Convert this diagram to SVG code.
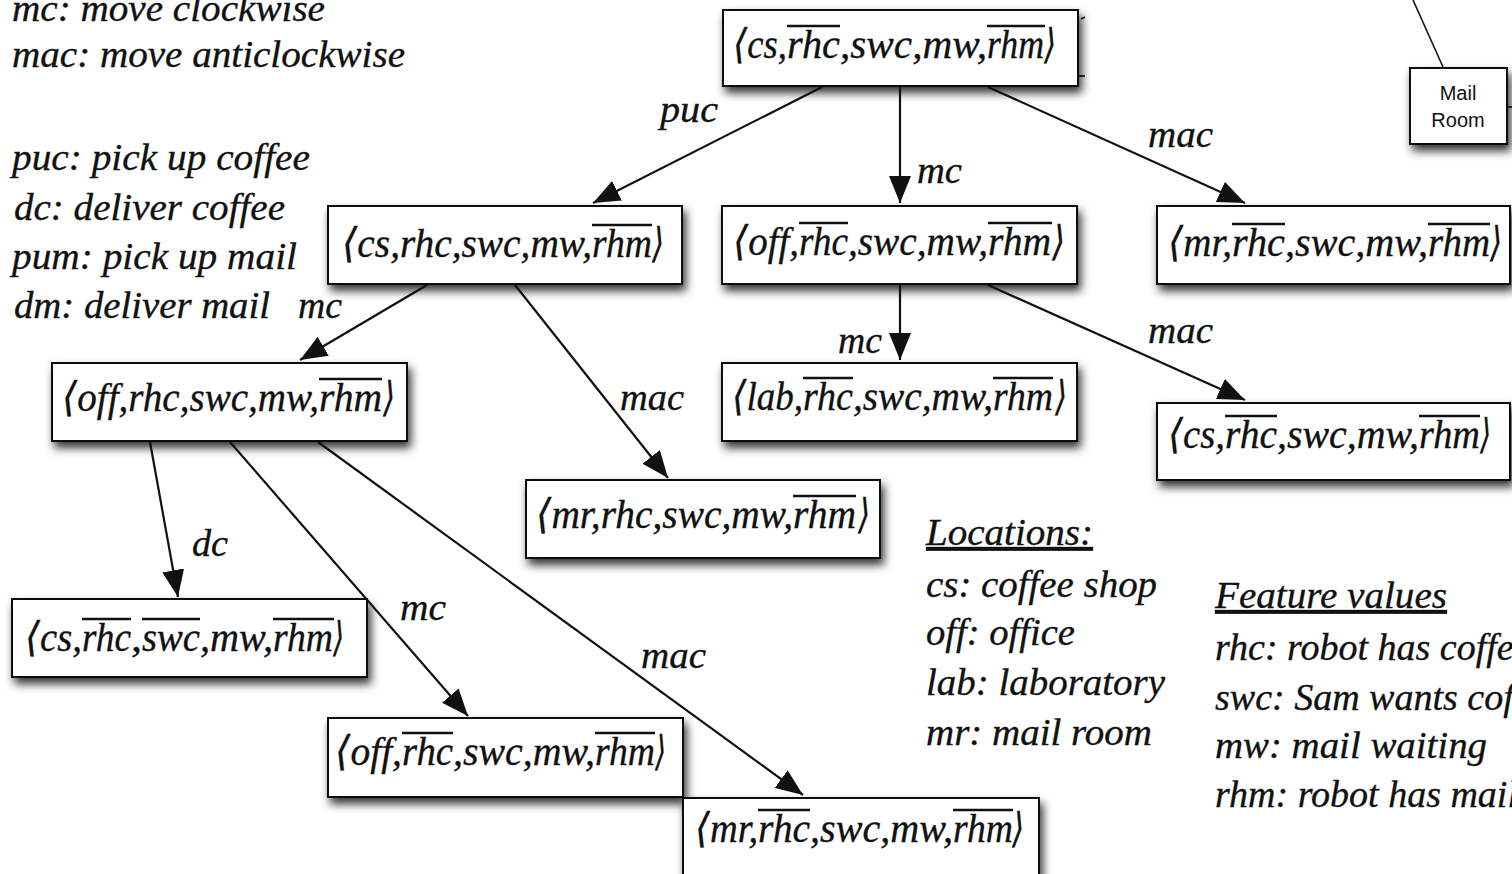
<svg xmlns="http://www.w3.org/2000/svg" width="1512" height="874" viewBox="0 0 1512 874">
<style>
.it{font-family:'Liberation Serif','DejaVu Serif',serif;font-style:italic;fill:#111;stroke:#111;stroke-width:0.35;}
.leg{font-size:38px;}
.lbl{font-size:38px;}
.nt{font-size:41px;}
.ul{text-decoration:underline;}
.box{fill:#fff;stroke:#111;stroke-width:2;}
.ov{stroke:#111;stroke-width:2.6;}
.edge{stroke:#111;stroke-width:2.2;fill:none;marker-end:url(#ah);}
.thin{stroke:#111;stroke-width:1.6;fill:none;}
.sans{font-family:'Liberation Sans',Arial,sans-serif;font-size:20px;fill:#111;}
</style>
<defs>
<filter id="sh" x="-10%" y="-20%" width="125%" height="160%">
<feDropShadow dx="3" dy="6" stdDeviation="5" flood-color="#000" flood-opacity="0.8"/>
</filter>
<marker id="ah" markerUnits="userSpaceOnUse" markerWidth="28" markerHeight="22" refX="27" refY="11" orient="auto">
<path d="M0,0 L27,11 L0,22 Z" fill="#111"/>
</marker>
</defs>
<rect width="1512" height="874" fill="#fff"/>

<g id="background-fragments">
<line class="thin" x1="1413" y1="0" x2="1443" y2="67"/>
<line class="thin" x1="1507" y1="107" x2="1512" y2="107"/>
<line class="thin" x1="1078" y1="76" x2="1085" y2="76"/>
<line class="thin" x1="1081" y1="19" x2="1085" y2="17"/>
</g>

<g id="mail-room">
<rect class="box" x="1410" y="68" width="97" height="76" filter="url(#sh)"/>
<text class="sans" x="1458" y="100" text-anchor="middle">Mail</text>
<text class="sans" x="1458" y="127" text-anchor="middle">Room</text>
</g>

<g id="legend-actions">
<text class="it leg" x="12" y="21" textLength="313" lengthAdjust="spacingAndGlyphs">mc: move clockwise</text>
<text class="it leg" x="12" y="67" textLength="393" lengthAdjust="spacingAndGlyphs">mac: move anticlockwise</text>
<text class="it leg" x="12" y="170" textLength="298" lengthAdjust="spacingAndGlyphs">puc: pick up coffee</text>
<text class="it leg" x="14" y="220" textLength="271" lengthAdjust="spacingAndGlyphs">dc: deliver coffee</text>
<text class="it leg" x="12" y="269" textLength="285" lengthAdjust="spacingAndGlyphs">pum: pick up mail</text>
<text class="it leg" x="14" y="318" textLength="256" lengthAdjust="spacingAndGlyphs">dm: deliver mail</text>
</g>

<g id="legend-locations">
<text class="it leg ul" x="926" y="545" textLength="167" lengthAdjust="spacingAndGlyphs">Locations:</text>
<text class="it leg" x="926" y="597" textLength="231" lengthAdjust="spacingAndGlyphs">cs: coffee shop</text>
<text class="it leg" x="926" y="645" textLength="149" lengthAdjust="spacingAndGlyphs">off: office</text>
<text class="it leg" x="926" y="695" textLength="239" lengthAdjust="spacingAndGlyphs">lab: laboratory</text>
<text class="it leg" x="926" y="745" textLength="226" lengthAdjust="spacingAndGlyphs">mr: mail room</text>
</g>

<g id="legend-features">
<text class="it leg ul" x="1215" y="608" textLength="232" lengthAdjust="spacingAndGlyphs">Feature values</text>
<text class="it leg" x="1215" y="660">rhc: robot has coffee</text>
<text class="it leg" x="1215" y="710">swc: Sam wants coffee</text>
<text class="it leg" x="1215" y="758" textLength="272" lengthAdjust="spacingAndGlyphs">mw: mail waiting</text>
<text class="it leg" x="1215" y="807">rhm: robot has mail</text>
</g>

<g id="root">
<rect class="box" x="723" y="10" width="355" height="76" filter="url(#sh)"/>
<text class="it nt" y="58"><tspan x="733" textLength="54" lengthAdjust="spacingAndGlyphs">⟨cs,</tspan><tspan x="787" textLength="53" lengthAdjust="spacingAndGlyphs">rhc</tspan><tspan x="840" textLength="147" lengthAdjust="spacingAndGlyphs">,swc,mw,</tspan><tspan x="987" textLength="57" lengthAdjust="spacingAndGlyphs">rhm</tspan><tspan x="1044" textLength="12" lengthAdjust="spacingAndGlyphs">⟩</tspan></text>
<line class="ov" x1="787" y1="26" x2="840" y2="26"/>
<line class="ov" x1="987" y1="26" x2="1045" y2="26"/>
</g>
<g id="n1">
<rect class="box" x="328" y="206" width="354" height="78" filter="url(#sh)"/>
<text class="it nt" y="257"><tspan x="342" textLength="250" lengthAdjust="spacingAndGlyphs">⟨cs,rhc,swc,mw,</tspan><tspan x="592" textLength="60" lengthAdjust="spacingAndGlyphs">rhm</tspan><tspan x="652" textLength="12" lengthAdjust="spacingAndGlyphs">⟩</tspan></text>
<line class="ov" x1="592" y1="225" x2="652" y2="225"/>
</g>
<g id="n2">
<rect class="box" x="722" y="206" width="355" height="78" filter="url(#sh)"/>
<text class="it nt" y="255"><tspan x="733" textLength="66" lengthAdjust="spacingAndGlyphs">⟨off,</tspan><tspan x="799" textLength="49" lengthAdjust="spacingAndGlyphs">rhc</tspan><tspan x="848" textLength="140" lengthAdjust="spacingAndGlyphs">,swc,mw,</tspan><tspan x="988" textLength="63" lengthAdjust="spacingAndGlyphs">rhm</tspan><tspan x="1052" textLength="13" lengthAdjust="spacingAndGlyphs">⟩</tspan></text>
<line class="ov" x1="799" y1="223" x2="848" y2="223"/>
<line class="ov" x1="988" y1="223" x2="1052" y2="223"/>
</g>
<g id="n3">
<rect class="box" x="1157" y="206" width="353" height="78" filter="url(#sh)"/>
<text class="it nt" y="256"><tspan x="1168" textLength="64" lengthAdjust="spacingAndGlyphs">⟨mr,</tspan><tspan x="1232" textLength="53" lengthAdjust="spacingAndGlyphs">rhc</tspan><tspan x="1285" textLength="143" lengthAdjust="spacingAndGlyphs">,swc,mw,</tspan><tspan x="1428" textLength="62" lengthAdjust="spacingAndGlyphs">rhm</tspan><tspan x="1490" textLength="12" lengthAdjust="spacingAndGlyphs">⟩</tspan></text>
<line class="ov" x1="1232" y1="224" x2="1285" y2="224"/>
<line class="ov" x1="1428" y1="224" x2="1490" y2="224"/>
</g>
<g id="n4">
<rect class="box" x="52" y="363" width="355" height="78" filter="url(#sh)"/>
<text class="it nt" y="411"><tspan x="62" textLength="257" lengthAdjust="spacingAndGlyphs">⟨off,rhc,swc,mw,</tspan><tspan x="319" textLength="63" lengthAdjust="spacingAndGlyphs">rhm</tspan><tspan x="383" textLength="12" lengthAdjust="spacingAndGlyphs">⟩</tspan></text>
<line class="ov" x1="319" y1="379" x2="382" y2="379"/>
</g>
<g id="n5">
<rect class="box" x="722" y="363" width="355" height="78" filter="url(#sh)"/>
<text class="it nt" y="410"><tspan x="732" textLength="71" lengthAdjust="spacingAndGlyphs">⟨lab,</tspan><tspan x="803" textLength="50" lengthAdjust="spacingAndGlyphs">rhc</tspan><tspan x="853" textLength="140" lengthAdjust="spacingAndGlyphs">,swc,mw,</tspan><tspan x="993" textLength="60" lengthAdjust="spacingAndGlyphs">rhm</tspan><tspan x="1055" textLength="12" lengthAdjust="spacingAndGlyphs">⟩</tspan></text>
<line class="ov" x1="803" y1="378" x2="853" y2="378"/>
<line class="ov" x1="993" y1="378" x2="1053" y2="378"/>
</g>
<g id="n6">
<rect class="box" x="1157" y="403" width="353" height="77" filter="url(#sh)"/>
<text class="it nt" y="448"><tspan x="1168" textLength="57" lengthAdjust="spacingAndGlyphs">⟨cs,</tspan><tspan x="1225" textLength="52" lengthAdjust="spacingAndGlyphs">rhc</tspan><tspan x="1277" textLength="142" lengthAdjust="spacingAndGlyphs">,swc,mw,</tspan><tspan x="1419" textLength="61" lengthAdjust="spacingAndGlyphs">rhm</tspan><tspan x="1480" textLength="11" lengthAdjust="spacingAndGlyphs">⟩</tspan></text>
<line class="ov" x1="1225" y1="416" x2="1277" y2="416"/>
<line class="ov" x1="1419" y1="416" x2="1480" y2="416"/>
</g>
<g id="n7">
<rect class="box" x="526" y="480" width="354" height="78" filter="url(#sh)"/>
<text class="it nt" y="528"><tspan x="536" textLength="257" lengthAdjust="spacingAndGlyphs">⟨mr,rhc,swc,mw,</tspan><tspan x="793" textLength="63" lengthAdjust="spacingAndGlyphs">rhm</tspan><tspan x="858" textLength="12" lengthAdjust="spacingAndGlyphs">⟩</tspan></text>
<line class="ov" x1="793" y1="496" x2="856" y2="496"/>
</g>
<g id="n8">
<rect class="box" x="12" y="599" width="355" height="78" filter="url(#sh)"/>
<text class="it nt" y="651"><tspan x="25" textLength="57" lengthAdjust="spacingAndGlyphs">⟨cs,</tspan><tspan x="82" textLength="49" lengthAdjust="spacingAndGlyphs">rhc</tspan><tspan x="131" textLength="11" lengthAdjust="spacingAndGlyphs">,</tspan><tspan x="142" textLength="58" lengthAdjust="spacingAndGlyphs">swc</tspan><tspan x="200" textLength="73" lengthAdjust="spacingAndGlyphs">,mw,</tspan><tspan x="273" textLength="60" lengthAdjust="spacingAndGlyphs">rhm</tspan><tspan x="333" textLength="11" lengthAdjust="spacingAndGlyphs">⟩</tspan></text>
<line class="ov" x1="82" y1="619" x2="131" y2="619"/>
<line class="ov" x1="142" y1="619" x2="200" y2="619"/>
<line class="ov" x1="273" y1="619" x2="334" y2="619"/>
</g>
<g id="n9">
<rect class="box" x="328" y="718" width="355" height="79" filter="url(#sh)"/>
<text class="it nt" y="765"><tspan x="335" textLength="67" lengthAdjust="spacingAndGlyphs">⟨off,</tspan><tspan x="402" textLength="51" lengthAdjust="spacingAndGlyphs">rhc</tspan><tspan x="453" textLength="142" lengthAdjust="spacingAndGlyphs">,swc,mw,</tspan><tspan x="595" textLength="60" lengthAdjust="spacingAndGlyphs">rhm</tspan><tspan x="655" textLength="11" lengthAdjust="spacingAndGlyphs">⟩</tspan></text>
<line class="ov" x1="402" y1="733" x2="453" y2="733"/>
<line class="ov" x1="595" y1="733" x2="655" y2="733"/>
</g>
<g id="n10">
<rect class="box" x="683" y="798" width="356" height="80" filter="url(#sh)"/>
<text class="it nt" y="842"><tspan x="695" textLength="63" lengthAdjust="spacingAndGlyphs">⟨mr,</tspan><tspan x="758" textLength="52" lengthAdjust="spacingAndGlyphs">rhc</tspan><tspan x="810" textLength="143" lengthAdjust="spacingAndGlyphs">,swc,mw,</tspan><tspan x="953" textLength="60" lengthAdjust="spacingAndGlyphs">rhm</tspan><tspan x="1012" textLength="12" lengthAdjust="spacingAndGlyphs">⟩</tspan></text>
<line class="ov" x1="758" y1="810" x2="810" y2="810"/>
<line class="ov" x1="953" y1="810" x2="1013" y2="810"/>
</g>

<g id="connectors">
<line class="edge" x1="822" y1="87" x2="593" y2="203"/>
<line class="edge" x1="900" y1="87" x2="900" y2="203"/>
<line class="edge" x1="988" y1="87" x2="1245" y2="203"/>
<line class="edge" x1="427" y1="285" x2="300" y2="360"/>
<line class="edge" x1="515" y1="285" x2="668" y2="478"/>
<line class="edge" x1="900" y1="285" x2="900" y2="360"/>
<line class="edge" x1="988" y1="285" x2="1245" y2="400"/>
<line class="edge" x1="150" y1="442" x2="178" y2="597"/>
<line class="edge" x1="230" y1="442" x2="468" y2="716"/>
<line class="edge" x1="318" y1="442" x2="803" y2="795"/>
<text class="it lbl" x="660" y="122" textLength="58" lengthAdjust="spacingAndGlyphs">puc</text>
<text class="it lbl" x="917" y="183" textLength="45" lengthAdjust="spacingAndGlyphs">mc</text>
<text class="it lbl" x="1148" y="147" textLength="65" lengthAdjust="spacingAndGlyphs">mac</text>
<text class="it lbl" x="298" y="318" textLength="44" lengthAdjust="spacingAndGlyphs">mc</text>
<text class="it lbl" x="620" y="410" textLength="64" lengthAdjust="spacingAndGlyphs">mac</text>
<text class="it lbl" x="838" y="353" textLength="44" lengthAdjust="spacingAndGlyphs">mc</text>
<text class="it lbl" x="1148" y="343" textLength="65" lengthAdjust="spacingAndGlyphs">mac</text>
<text class="it lbl" x="192" y="556" textLength="36" lengthAdjust="spacingAndGlyphs">dc</text>
<text class="it lbl" x="400" y="620" textLength="46" lengthAdjust="spacingAndGlyphs">mc</text>
<text class="it lbl" x="641" y="668" textLength="65" lengthAdjust="spacingAndGlyphs">mac</text>
</g>
</svg>
